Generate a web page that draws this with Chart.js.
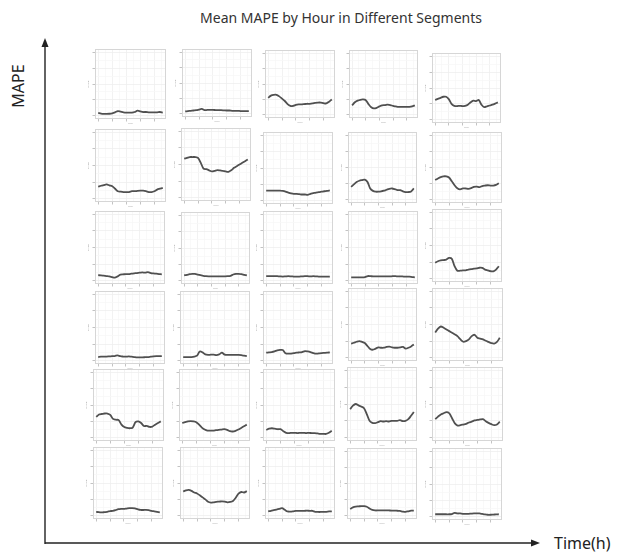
<!DOCTYPE html>
<html>
<head>
<meta charset="utf-8">
<script src="https://cdn.jsdelivr.net/npm/chart.js@4.4.1/dist/chart.umd.min.js"></script>
<style>
  html, body { margin: 0; padding: 0; background: #fff; }
  #page { position: relative; width: 619px; height: 552px; overflow: hidden; font-family: "Noto Sans", "Open Sans", sans-serif; }
  #page canvas { position: absolute; }
  .lbl { position: absolute; color: #222; white-space: nowrap; }
  #title { left: 0; width: 682px; top: 8px; text-align: center; font-size: 14px; color: #333; }
  #ylab { left: 18px; top: 86px; font-size: 16px; transform: translate(-50%, -50%) rotate(-90deg); }
  #xlab { left: 554px; top: 532px; font-size: 16px; }
  #arrows { position: absolute; left: 0; top: 0; }
</style>
</head>
<body>
<div id="page">
  <div class="lbl" id="title">Mean MAPE by Hour in Different Segments</div>
  <div class="lbl" id="ylab">MAPE</div>
  <div class="lbl" id="xlab">Time(h)</div>
  <svg id="arrows" width="619" height="552">
    <line x1="45" y1="544" x2="45" y2="44" stroke="#222" stroke-width="1.4"/>
    <polygon points="45,38 41.5,47 48.5,47" fill="#222"/>
    <line x1="45" y1="543" x2="534" y2="543" stroke="#222" stroke-width="1.4"/>
    <polygon points="540,543 531,539.5 531,546.5" fill="#222"/>
  </svg>
</div>
<script>
// hours on the x axis of every panel
const HOURS = [0,1,2,3,4,5,6,7,8,9,10,11,12,13,14,15,16,17,18,19,20,21,22,23];
const X_BREAKS = [0, 5, 10, 15, 20];
const Y_BREAKS = [0, 1, 2, 3, 4];

// mean MAPE per hour, one array per segment (row, column)
const s11 = [0.18,0.14,0.12,0.12,0.13,0.16,0.22,0.30,0.26,0.22,0.20,0.20,0.20,0.24,0.32,0.28,0.24,0.24,0.22,0.22,0.22,0.22,0.24,0.20];
const s12 = [0.16,0.18,0.20,0.22,0.24,0.28,0.32,0.24,0.26,0.26,0.26,0.25,0.24,0.24,0.23,0.22,0.22,0.20,0.20,0.20,0.18,0.18,0.18,0.18];
const s13 = [1.10,1.25,1.30,1.30,1.20,1.05,0.90,0.70,0.58,0.58,0.65,0.68,0.68,0.70,0.72,0.72,0.74,0.78,0.80,0.80,0.76,0.74,0.85,1.00];
const s14 = [0.62,0.82,0.92,0.98,1.00,0.95,0.70,0.50,0.42,0.46,0.55,0.62,0.63,0.66,0.64,0.58,0.55,0.52,0.52,0.52,0.52,0.52,0.55,0.62];
const s15 = [1.25,1.32,1.38,1.45,1.45,1.30,1.00,0.88,0.86,0.88,0.86,0.88,0.95,1.10,1.20,1.18,1.25,0.95,0.80,0.85,0.90,0.95,1.02,1.10];

const s21 = [0.72,0.78,0.82,0.86,0.80,0.75,0.60,0.45,0.42,0.40,0.40,0.40,0.45,0.45,0.47,0.48,0.48,0.45,0.40,0.40,0.45,0.55,0.60,0.65];
const s22 = [2.35,2.40,2.45,2.45,2.45,2.40,2.10,1.75,1.72,1.65,1.58,1.62,1.66,1.64,1.62,1.58,1.56,1.65,1.80,1.90,2.00,2.10,2.20,2.30];
const s23 = [0.62,0.62,0.62,0.62,0.62,0.62,0.60,0.56,0.50,0.45,0.42,0.42,0.40,0.38,0.38,0.36,0.42,0.46,0.50,0.52,0.55,0.58,0.60,0.63];
const s24 = [0.80,0.95,1.10,1.18,1.22,1.25,1.10,0.70,0.55,0.50,0.50,0.52,0.56,0.62,0.68,0.70,0.66,0.60,0.60,0.52,0.48,0.48,0.52,0.70];
const s25 = [1.22,1.32,1.40,1.45,1.45,1.38,1.15,0.90,0.72,0.65,0.70,0.70,0.68,0.72,0.80,0.82,0.78,0.85,0.88,0.90,0.88,0.88,0.92,1.02];

const s31 = [0.33,0.32,0.30,0.28,0.26,0.22,0.18,0.26,0.36,0.38,0.40,0.40,0.42,0.44,0.46,0.48,0.50,0.48,0.52,0.46,0.44,0.42,0.40,0.38];
const s32 = [0.33,0.36,0.40,0.42,0.42,0.38,0.34,0.30,0.28,0.27,0.27,0.27,0.27,0.27,0.27,0.27,0.28,0.30,0.38,0.42,0.42,0.40,0.36,0.32];
const s33 = [0.27,0.27,0.27,0.28,0.27,0.26,0.25,0.26,0.27,0.26,0.25,0.24,0.25,0.26,0.27,0.27,0.26,0.27,0.26,0.25,0.24,0.24,0.24,0.25];
const s34 = [0.20,0.20,0.20,0.20,0.20,0.22,0.28,0.27,0.26,0.26,0.26,0.26,0.26,0.26,0.26,0.27,0.27,0.26,0.26,0.25,0.25,0.24,0.22,0.20];
const s35 = [0.96,1.05,1.10,1.12,1.15,1.25,1.20,0.75,0.48,0.48,0.50,0.50,0.55,0.58,0.60,0.62,0.66,0.65,0.55,0.50,0.45,0.44,0.55,0.75];

const s41 = [0.22,0.24,0.25,0.25,0.26,0.27,0.28,0.32,0.27,0.25,0.24,0.26,0.24,0.22,0.20,0.20,0.20,0.21,0.22,0.24,0.26,0.27,0.27,0.28];
const s42 = [0.22,0.22,0.22,0.22,0.24,0.30,0.55,0.50,0.38,0.35,0.36,0.36,0.34,0.38,0.48,0.36,0.35,0.35,0.35,0.35,0.35,0.33,0.30,0.27];
const s43 = [0.48,0.50,0.52,0.56,0.62,0.65,0.64,0.45,0.42,0.43,0.45,0.48,0.50,0.52,0.58,0.56,0.52,0.46,0.42,0.44,0.46,0.47,0.48,0.50];
const s44 = [0.85,0.90,0.96,1.00,0.95,0.88,0.70,0.52,0.48,0.55,0.62,0.60,0.60,0.65,0.67,0.62,0.60,0.60,0.62,0.65,0.55,0.60,0.68,0.80];
const s45 = [1.52,1.75,1.88,1.80,1.70,1.60,1.50,1.40,1.28,1.10,0.96,1.00,1.10,1.30,1.38,1.20,1.15,1.10,1.02,0.95,0.88,0.85,0.95,1.20];

const s51 = [1.27,1.42,1.45,1.48,1.48,1.40,1.15,1.10,1.08,0.80,0.65,0.60,0.58,0.62,0.95,1.00,0.90,0.72,0.72,0.66,0.68,0.80,0.90,1.00];
const s52 = [0.90,0.95,1.00,1.02,1.00,0.95,0.80,0.62,0.50,0.44,0.43,0.44,0.46,0.48,0.50,0.52,0.48,0.40,0.38,0.42,0.50,0.60,0.70,0.80];
const s53 = [0.48,0.55,0.58,0.55,0.52,0.52,0.40,0.30,0.28,0.30,0.30,0.28,0.30,0.30,0.28,0.30,0.28,0.28,0.26,0.24,0.24,0.23,0.30,0.42];
const s54 = [1.69,1.90,2.00,1.92,1.85,1.75,1.40,1.00,0.88,0.86,0.92,0.98,0.96,0.98,0.96,1.00,1.00,1.00,1.04,0.98,1.00,1.10,1.30,1.52];
const s55 = [1.10,1.25,1.38,1.45,1.52,1.45,1.15,0.85,0.72,0.74,0.78,0.82,0.90,0.95,1.02,1.05,1.08,1.10,0.98,0.88,0.80,0.74,0.78,0.95];

const s61 = [0.23,0.22,0.20,0.22,0.24,0.28,0.30,0.34,0.40,0.42,0.42,0.44,0.46,0.47,0.45,0.40,0.36,0.35,0.36,0.34,0.30,0.27,0.24,0.21];
const s62 = [1.48,1.55,1.58,1.52,1.42,1.36,1.25,1.12,1.00,0.85,0.80,0.82,0.85,0.86,0.88,0.86,0.82,0.84,0.90,1.10,1.35,1.45,1.42,1.50];
const s63 = [0.27,0.30,0.34,0.38,0.42,0.46,0.36,0.26,0.25,0.27,0.30,0.30,0.30,0.30,0.31,0.30,0.30,0.24,0.23,0.23,0.24,0.24,0.26,0.27];
const s64 = [0.42,0.52,0.57,0.58,0.60,0.60,0.56,0.45,0.36,0.33,0.33,0.33,0.33,0.34,0.33,0.32,0.32,0.31,0.30,0.26,0.24,0.28,0.32,0.32];
const s65 = [0.15,0.15,0.15,0.15,0.15,0.15,0.16,0.24,0.20,0.20,0.18,0.18,0.18,0.19,0.20,0.20,0.20,0.17,0.14,0.12,0.12,0.13,0.14,0.15];

const segments = [
  s11, s12, s13, s14, s15,
  s21, s22, s23, s24, s25,
  s31, s32, s33, s34, s35,
  s41, s42, s43, s44, s45,
  s51, s52, s53, s54, s55,
  s61, s62, s63, s64, s65
];

// panel frames on the page: [left, top, right, bottom]
const frames = [
  [95,49,166,119], [182,49,252,117], [265,50,335,118], [349,50,418,118], [432,53,501,123],
  [95,129,166,202], [181,128,251,201], [263,132,333,204], [348,132,417,203], [432,132,502,203],
  [95,211,165,284], [181,212,250,284], [263,211,333,284], [348,211,418,284], [432,209,502,282],
  [95,291,165,364], [180,291,250,364], [263,291,333,364], [348,288,417,361], [432,288,503,361],
  [93,369,164,441], [179,369,250,441], [263,369,335,441], [347,367,417,441], [432,367,503,441],
  [93,447,163,519], [180,447,250,519], [265,447,335,519], [347,448,417,519], [432,448,502,520]
];

// minor breaks halfway between the major ones
const xGrid = [];
X_BREAKS.forEach(v => { xGrid.push(v, v + 2.5); });
const yGrid = [];
Y_BREAKS.forEach((v, i) => { yGrid.push(v); if (i < Y_BREAKS.length - 1) yGrid.push(v + 0.5); });

const panelFrame = {
  id: 'panelFrame',
  afterDraw(chart) {
    const a = chart.chartArea;
    const ctx = chart.ctx;
    ctx.save();
    ctx.strokeStyle = '#d6d6d6';
    ctx.lineWidth = 1;
    ctx.strokeRect(Math.round(a.left) + 0.5, Math.round(a.top) + 0.5,
                   Math.round(a.right - a.left) - 1, Math.round(a.bottom - a.top) - 1);
    ctx.restore();
  }
};

const page = document.getElementById('page');

segments.forEach(function (vals, k) {
  const f = frames[k];
  const w = f[2] - f[0], h = f[3] - f[1];
  const canvas = document.createElement('canvas');
  canvas.width = w + 12;
  canvas.height = h + 10;
  canvas.style.left = (f[0] - 10) + 'px';
  canvas.style.top = (f[1] - 2) + 'px';
  canvas.style.width = (w + 12) + 'px';
  canvas.style.height = (h + 10) + 'px';
  page.appendChild(canvas);

  new Chart(canvas.getContext('2d'), {
    type: 'line',
    data: {
      datasets: [{
        data: HOURS.map((hr, i) => ({ x: hr, y: vals[i] })),
        borderColor: '#505050',
        borderWidth: 1.8,
        pointRadius: 0,
        tension: 0.3,
        fill: false
      }]
    },
    options: {
      responsive: false,
      animation: false,
      events: [],
      layout: { padding: { left: 2, right: 2, top: 2, bottom: 2 } },
      plugins: { legend: { display: false }, tooltip: { enabled: false } },
      scales: {
        x: {
          type: 'linear',
          min: -1.15,
          max: 24.15,
          afterBuildTicks: s => { s.ticks = xGrid.map(v => ({ value: v })); },
          afterFit: s => { s.height = 6; },
          ticks: { display: false },
          grid: {
            color: c => (X_BREAKS.includes(c.tick && c.tick.value) ? '#efefef' : '#f7f7f7'),
            tickColor: c => (X_BREAKS.includes(c.tick && c.tick.value) ? '#b4b4b4' : 'rgba(0,0,0,0)'),
            tickLength: 2.5,
            lineWidth: 0.8
          },
          border: { display: false },
          title: { display: true, text: 'hour', font: { size: 2.5 }, color: '#aaa', padding: 0 }
        },
        y: {
          min: -0.2,
          max: 4.2,
          afterBuildTicks: s => { s.ticks = yGrid.map(v => ({ value: v })); },
          afterFit: s => { s.width = 8; },
          ticks: { display: false },
          grid: {
            color: c => (Y_BREAKS.includes(c.tick && c.tick.value) ? '#efefef' : '#f7f7f7'),
            tickColor: c => (Y_BREAKS.includes(c.tick && c.tick.value) ? '#b4b4b4' : 'rgba(0,0,0,0)'),
            tickLength: 2.5,
            lineWidth: 0.8
          },
          border: { display: false },
          title: { display: true, text: 'MAPE', font: { size: 2.5 }, color: '#999', padding: 0 }
        }
      }
    },
    plugins: [panelFrame]
  });
});
</script>
</body>
</html>
